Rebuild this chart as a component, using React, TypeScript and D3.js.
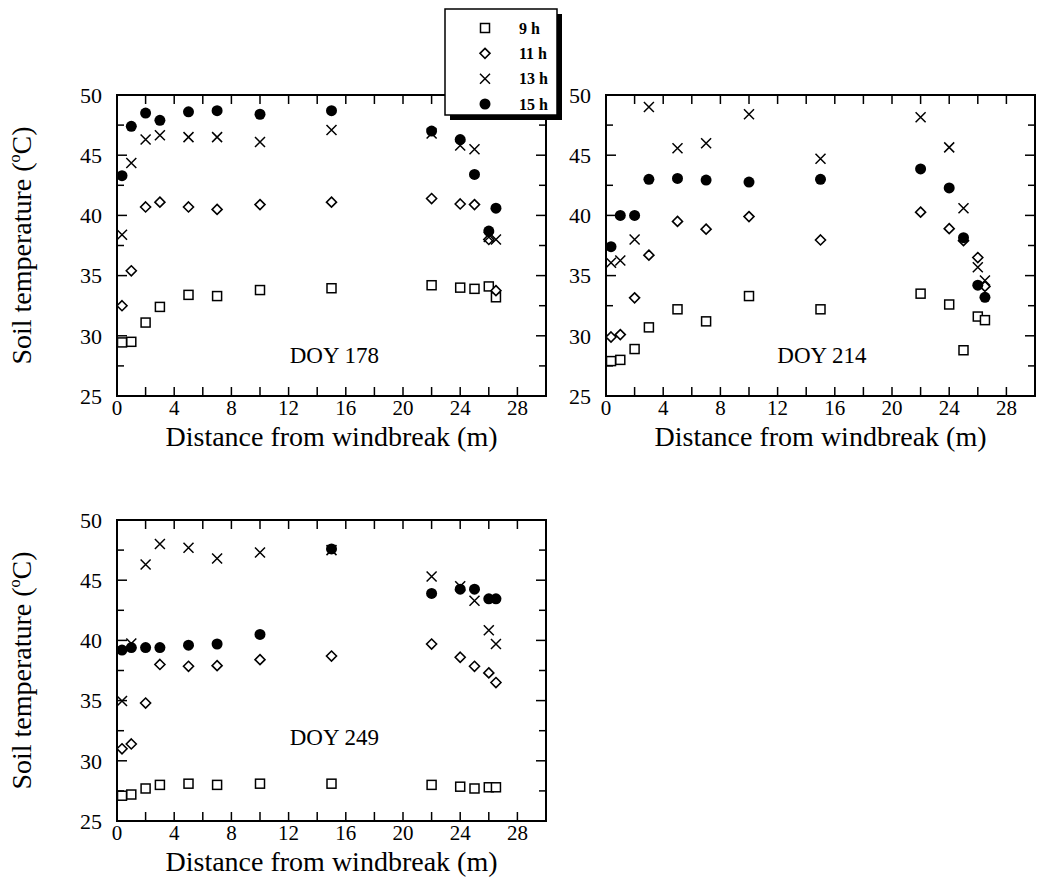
import React from 'react'
import * as d3 from 'd3'

// distances from the windbreak (m), shared by every series
const distances = [0.35, 1, 2, 3, 5, 7, 10, 15, 22, 24, 25, 26, 26.5]
const hours = ['9 h', '11 h', '13 h', '15 h']

// soil temperature (°C), DOY 178
const doy178_9h = [29.45, 29.5, 31.1, 32.4, 33.4, 33.3, 33.8, 33.95, 34.2, 34.0, 33.9, 34.1, 33.2]
const doy178_11h = [32.5, 35.4, 40.7, 41.1, 40.7, 40.5, 40.9, 41.1, 41.4, 40.95, 40.9, 38.0, 33.75]
const doy178_13h = [38.4, 44.35, 46.3, 46.65, 46.5, 46.5, 46.1, 47.1, 46.8, 45.8, 45.5, 38.2, 38.0]
const doy178_15h = [43.3, 47.4, 48.5, 47.9, 48.6, 48.7, 48.4, 48.7, 47.0, 46.3, 43.4, 38.7, 40.6]

// DOY 214
const doy214_9h = [27.9, 28.0, 28.9, 30.7, 32.2, 31.2, 33.3, 32.2, 33.5, 32.6, 28.8, 31.6, 31.3]
const doy214_11h = [29.9, 30.1, 33.15, 36.7, 39.5, 38.86, 39.9, 37.96, 40.27, 38.9, 37.9, 36.5, 34.1]
const doy214_13h = [36.06, 36.25, 38.0, 49.0, 45.57, 46.0, 48.4, 44.7, 48.15, 45.65, 40.6, 35.7, 34.6]
const doy214_15h = [37.4, 40.0, 40.0, 43.0, 43.07, 42.93, 42.77, 43.0, 43.86, 42.28, 38.15, 34.2, 33.2]

// DOY 249
const doy249_9h = [27.1, 27.2, 27.7, 28.0, 28.1, 28.0, 28.1, 28.1, 28.0, 27.85, 27.7, 27.8, 27.8]
const doy249_11h = [31.0, 31.4, 34.8, 38.0, 37.85, 37.9, 38.4, 38.7, 39.7, 38.6, 37.85, 37.3, 36.5]
const doy249_13h = [34.97, 39.75, 46.3, 48.0, 47.7, 46.8, 47.3, 47.5, 45.3, 44.5, 43.3, 40.85, 39.7]
const doy249_15h = [39.2, 39.4, 39.4, 39.4, 39.6, 39.7, 40.5, 47.6, 43.9, 44.25, 44.25, 43.45, 43.45]

const xTicks = d3.range(0, 30, 2)
const xLabels = [0, 4, 8, 12, 16, 20, 24, 28]
const yTicks = d3.range(25, 50.1, 2.5)
const yLabels = [25, 30, 35, 40, 45, 50]

const FONT = '"Liberation Serif", "Times New Roman", serif'

// panel layout in pixels
const panels = [
  { doy: 'DOY 178', left: 117, top: 95, series: [doy178_9h, doy178_11h, doy178_13h, doy178_15h], lab: [15.2, 28.4] },
  { doy: 'DOY 214', left: 606, top: 95, series: [doy214_9h, doy214_11h, doy214_13h, doy214_15h], lab: [15.1, 28.4] },
  { doy: 'DOY 249', left: 117, top: 520, series: [doy249_9h, doy249_11h, doy249_13h, doy249_15h], lab: [15.2, 32.0] },
]
const W = 429
const H = 301

function Marker({ kind, x, y }) {
  if (kind === 0) {
    return <rect x={x - 4.5} y={y - 4.5} width={9} height={9} fill="white" stroke="black" strokeWidth={1.5} />
  }
  if (kind === 1) {
    const s = 5
    return <path d={`M${x},${y - s}L${x + s},${y}L${x},${y + s}L${x - s},${y}Z`} fill="white" stroke="black" strokeWidth={1.6} />
  }
  if (kind === 2) {
    const s = 5
    return <path d={`M${x - s},${y - s}L${x + s},${y + s}M${x - s},${y + s}L${x + s},${y - s}`} stroke="black" strokeWidth={1.5} fill="none" />
  }
  return <circle cx={x} cy={y} r={5.5} fill="black" />
}

function Panel({ p }) {
  const x = d3.scaleLinear().domain([0, 30]).range([p.left, p.left + W])
  const y = d3.scaleLinear().domain([25, 50]).range([p.top + H, p.top])
  const bottom = p.top + H
  const right = p.left + W
  return (
    <g>
      {/* ticks on all four sides, pointing in */}
      {xTicks.filter(t => t > 0).map(t => (
        <g key={'x' + t} stroke="black" strokeWidth={1.5}>
          <line x1={x(t)} x2={x(t)} y1={bottom} y2={bottom - 9} />
          <line x1={x(t)} x2={x(t)} y1={p.top} y2={p.top + 9} />
        </g>
      ))}
      {yTicks.filter(t => t > 25 && t < 50).map(t => {
        const len = t % 5 === 0 ? 10 : 7
        return (
          <g key={'y' + t} stroke="black" strokeWidth={1.5}>
            <line x1={p.left} x2={p.left + len} y1={y(t)} y2={y(t)} />
            <line x1={right} x2={right - len} y1={y(t)} y2={y(t)} />
          </g>
        )
      })}
      <rect x={p.left} y={p.top} width={W} height={H} fill="none" stroke="black" strokeWidth={2} />
      {xLabels.map(t => (
        <text key={'xl' + t} x={x(t)} y={bottom + 19} textAnchor="middle" fontSize={21} fontFamily={FONT}>{t}</text>
      ))}
      {yLabels.map(t => (
        <text key={'yl' + t} x={p.left - 15} y={y(t)} dy="0.35em" textAnchor="end" fontSize={22} fontFamily={FONT}>{t}</text>
      ))}
      <text x={(p.left + right) / 2} y={bottom + 50} textAnchor="middle" fontSize={28} fontFamily={FONT}>
        Distance from windbreak (m)
      </text>
      {p.left < 300 && (
        <text transform={`translate(${p.left - 86},${p.top + H / 2}) rotate(-90)`} textAnchor="middle" fontSize={28} fontFamily={FONT}>
          Soil temperature  (<tspan fontSize={16} dy={-11}>o</tspan><tspan dy={11}>C)</tspan>
        </text>
      )}
      <text x={x(p.lab[0])} y={y(p.lab[1])} dy="0.35em" textAnchor="middle" fontSize={23} fontFamily={FONT}>{p.doy}</text>
      {p.series.map((vals, k) => (
        <g key={k}>
          {vals.map((v, i) => <Marker key={i} kind={k} x={x(distances[i])} y={y(v)} />)}
        </g>
      ))}
    </g>
  )
}

function Legend() {
  const left = 445
  const top = 9
  const w = 112
  const h = 106
  const row = d3.scalePoint().domain(hours).range([top + 19, top + 95])
  return (
    <g>
      <rect x={left + 5} y={top + 5} width={w} height={h} fill="black" />
      <rect x={left} y={top} width={w} height={h} fill="white" stroke="black" strokeWidth={1.5} />
      {hours.map((hName, k) => (
        <g key={hName}>
          <Marker kind={k} x={left + 40} y={row(hName)} />
          <text x={left + 74} y={row(hName)} dy="0.35em" fontSize={16} fontWeight="bold" fontFamily={FONT}>{hName}</text>
        </g>
      ))}
    </g>
  )
}

export default function App() {
  return (
    <svg width={1039} height={879} style={{ position: 'absolute', left: 0, top: 0, background: 'white' }}>
      {panels.map(p => <Panel key={p.doy} p={p} />)}
      <Legend />
    </svg>
  )
}
